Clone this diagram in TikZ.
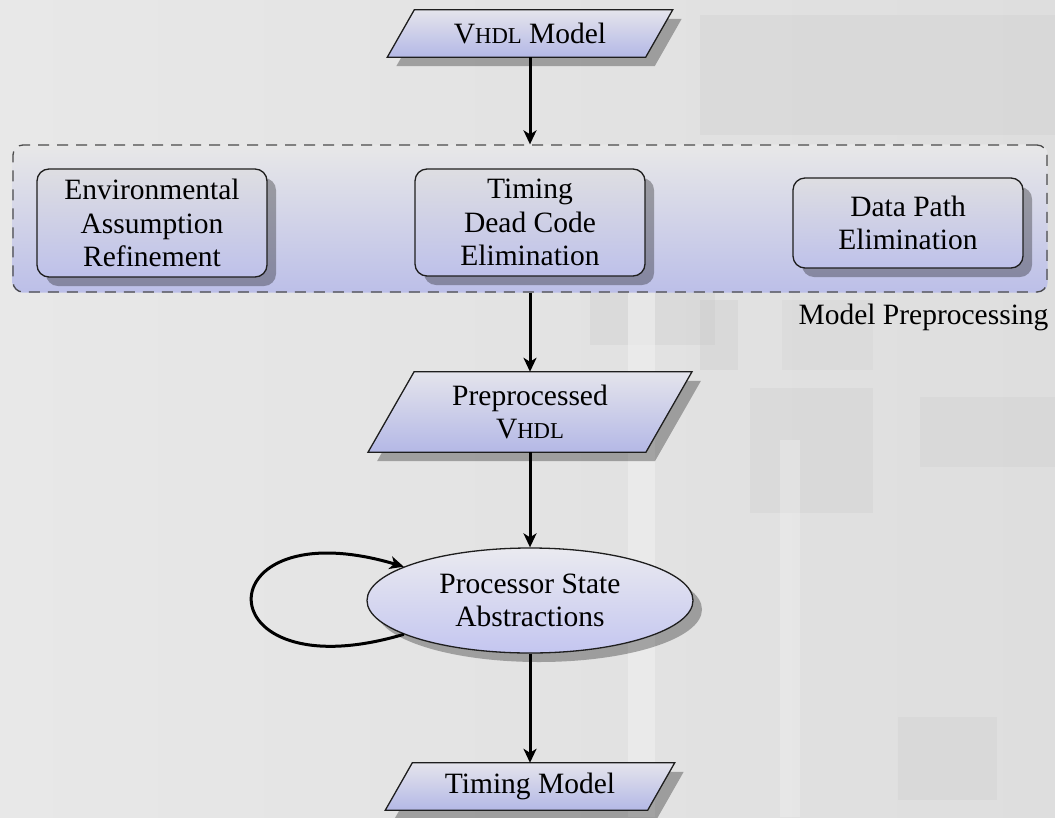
\documentclass[tikz,border=0pt]{standalone}
\usepackage{fontspec}
\setmainfont{Liberation Serif}
\usetikzlibrary{shapes.geometric,shadows,arrows.meta}
\pgfdeclarelayer{bg}
\pgfdeclarelayer{mid}
\pgfsetlayers{bg,mid,main}
\definecolor{lav}{HTML}{B4B8E6}
\definecolor{lavtop}{HTML}{E4E4EC}
\definecolor{grpbot}{HTML}{BCBFE8}
\definecolor{boxtop}{HTML}{DEDEE2}
\definecolor{boxbot}{HTML}{BEC1EA}
\definecolor{elltop}{HTML}{EAEAF0}
\definecolor{ellbot}{HTML}{C4C6F0}
\definecolor{bgl}{HTML}{E8E8E8}
\definecolor{bgr}{HTML}{DEDEDE}
\definecolor{bgd}{HTML}{C8C8C8}
\definecolor{bgw}{HTML}{F0F0F0}
\definecolor{edge}{HTML}{1E1E1E}
\definecolor{dashc}{HTML}{4A4A4A}
\newcommand{\vhdl}{V{\fontsize{22.7}{26}\selectfont HDL}}
\newcommand{\paradraw}[2]{%
  \begin{pgfonlayer}{mid}
  \path[parashape] ([xshift=#2*0.5pt]#1.north west) -- ([xshift=#2*0.5pt]#1.north east)
    -- ([xshift=-#2*0.5pt]#1.south east) -- ([xshift=-#2*0.5pt]#1.south west) -- cycle;
  \end{pgfonlayer}}
\tikzset{
  every node/.style={font=\fontsize{29.5}{33.5}\selectfont, text=black},
  shad/.style={drop shadow={shadow xshift=9pt, shadow yshift=-9pt, fill=black, opacity=0.3}},
  procbox/.style={rectangle, rounded corners=12pt, draw=edge, line width=1.3pt,
    top color=boxtop, bottom color=boxbot, minimum width=230pt, align=center,
    inner sep=0pt, shad},
  iobox/.style={rectangle, draw=none, inner sep=0pt, align=center},
  parashape/.style={draw=edge, line width=1.3pt, top color=lavtop, bottom color=lav, shad},
  statenode/.style={ellipse, draw=edge, line width=1.3pt, top color=elltop,
    bottom color=ellbot, minimum width=326pt, minimum height=105pt, inner sep=0pt,
    align=center, shad},
  groupbox/.style={rectangle, rounded corners=10pt, draw=dashc, line width=1.3pt,
    dash pattern=on 11pt off 8pt, minimum width=1034pt, minimum height=147pt, inner sep=0pt},
  arr/.style={-{Stealth[length=14pt,width=13pt,inset=4pt]}, line width=3pt, draw=black},
}
\begin{document}
\begin{tikzpicture}[x=1pt,y=-1pt]
\useasboundingbox (0,0) rectangle (1055,817);
% background
\begin{pgfonlayer}{bg}
\shade[left color=bgl, right color=bgr] (0,0) rectangle (1055,817);
\fill[bgd, opacity=0.25] (700,15) rectangle (1055,135);
\fill[bgd, opacity=0.3] (590,255) rectangle (715,345);
\fill[bgd, opacity=0.3] (700,300) rectangle (738,370);
\fill[bgd, opacity=0.2] (782,300) rectangle (873,370);
\fill[bgd, opacity=0.25] (750,388) rectangle (873,513);
\fill[bgd, opacity=0.25] (920,397) rectangle (1055,467);
\fill[bgd, opacity=0.25] (898,717) rectangle (997,800);
\fill[bgw, opacity=0.6] (628,290) rectangle (655,817);
\fill[bgw, opacity=0.4] (780,440) rectangle (800,817);
\end{pgfonlayer}

% group
\node[groupbox] (pre) at (530,218.5) {};
\begin{pgfonlayer}{mid}
\shade[top color=bgl, bottom color=grpbot, rounded corners=10pt]
  (pre.south west) rectangle (pre.north east);
\end{pgfonlayer}
\node[anchor=base east] (prelabel) at (1052,324) {Model Preprocessing};

\node[procbox, minimum height=108pt] (env) at (152,223) {Environmental\\Assumption\\Refinement};
\node[procbox, minimum height=107pt] (tdce) at (530,222.5) {Timing\\Dead Code\\Elimination};
\node[procbox, minimum height=90pt] (dpe) at (908,223) {Data Path\\Elimination};

% io nodes
\node[iobox, minimum width=258pt, minimum height=47pt] (vhdl) at (530,33.5) {\vhdl{} Model};
\paradraw{vhdl}{27}
\node[iobox, minimum width=277.5pt, minimum height=80pt] (prep) at (530,412) {Preprocessed\\\vhdl};
\paradraw{prep}{46}
\node[iobox, minimum width=262pt, minimum height=47pt] (tmodel) at (530,786.5) {Timing Model};
\paradraw{tmodel}{27}

\node[statenode] (ps) at (530,600.5) {Processor State\\Abstractions};

% connectors
\draw[arr] (vhdl) -- (pre);
\draw[arr] (pre) -- (prep);
\draw[arr] (prep) -- (ps);
\draw[arr] (ps) -- (tmodel);
\draw[arr] (ps.195) .. controls +(-202,60) and +(-202,-60) .. (ps.165);
\end{tikzpicture}
\end{document}
